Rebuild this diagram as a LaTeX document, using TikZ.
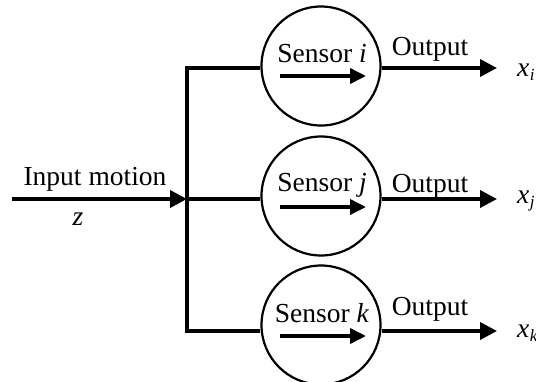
\documentclass[tikz,border=0pt]{standalone}
\usepackage{fontspec}
\setmainfont{Liberation Serif}
\usetikzlibrary{arrows.meta}

% italic variable with an italic subscript, set in text font
\newcommand{\outvar}[1]{\textit{x}\kern0.5pt\raisebox{-0.35ex}{\fontsize{17}{17}\selectfont\textit{#1}}}

\begin{document}
\begin{tikzpicture}[x=1pt,y=-1pt,
  every node/.style={font=\fontsize{27.5}{30}\selectfont, inner sep=0pt},
  wire/.style={line width=3.6pt},
  flow/.style={wire,-{Triangle[length=17pt,width=17pt]}},
  sensorbody/.style={circle, draw, line width=2.2pt, minimum size=119pt},
  motion/.style={line width=3.6pt,-{Triangle[length=16pt,width=15pt]}},
  caption/.style={anchor=base}]
\useasboundingbox (0,0) rectangle (536,381);

% sensors
\node[sensorbody] (si) at (321,66)  {};
\node[sensorbody] (sj) at (321,196) {};
\node[sensorbody] (sk) at (321,325) {};

% sensor captions and motion arrows inside the sensors
\node[caption] (ti) at (322,62)  {Sensor \textit{i}};
\node[caption] (tj) at (322,191) {Sensor \textit{j}};
\node[caption] (tk) at (322,322) {Sensor \textit{k}};
\coordinate (ai0) at (280,76);  \coordinate (ai1) at (366,76);
\coordinate (aj0) at (280,207); \coordinate (aj1) at (366,207);
\coordinate (ak0) at (280,336); \coordinate (ak1) at (366,336);
\draw[motion] (ai0) -- (ai1);
\draw[motion] (aj0) -- (aj1);
\draw[motion] (ak0) -- (ak1);

% input and the branching bus
\coordinate (src) at (12,199);
\coordinate (split) at (187,199);
\coordinate (bi) at (187,68);
\coordinate (bk) at (187,331);
\node[caption] (inlab) at (95,185) {Input motion};
\node (zlab) at (78,219) {\textit{z}};
\draw[flow] (src) -- (split);
\draw[wire] ([yshift=1.8pt]bi) -- ([yshift=-1.8pt]bk);
\draw[wire] (bi) -- (bi -| si.west);
\draw[wire] (split) -- (split -| sj.west);
\draw[wire] (bk) -- (bk -| sk.west);

% outputs
\coordinate (oi) at (497,68);
\coordinate (oj) at (497,199);
\coordinate (ok) at (497,331);
\draw[flow] (oi -| si.east) -- (oi);
\draw[flow] (oj -| sj.east) -- (oj);
\draw[flow] (ok -| sk.east) -- (ok);
\node[caption] (li) at (430,55)  {Output};
\node[caption] (lj) at (430,192) {Output};
\node[caption] (lk) at (430,315) {Output};
\node[anchor=base west] (xi) at (517,76)  {\outvar{i}};
\node[anchor=base west] (xj) at (517,203) {\outvar{j}};
\node[anchor=base west] (xk) at (517,337) {\outvar{k}};
\end{tikzpicture}
\end{document}
